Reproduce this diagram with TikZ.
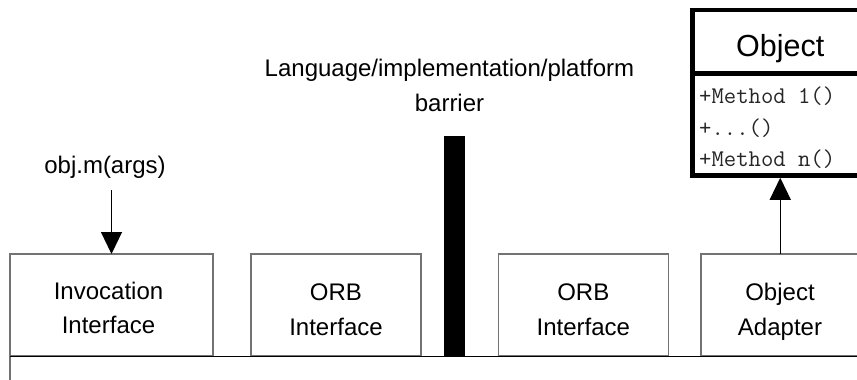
\documentclass[tikz,border=0pt]{standalone}
\usepackage{fontspec}
\setmainfont{Liberation Sans}
\usetikzlibrary{arrows.meta}

\begin{document}
\begin{tikzpicture}[x=1pt,y=-1pt,
  comp/.style={draw=black!55, line width=1.3pt, minimum width=#1,
    minimum height=102pt, inner sep=0pt, outer sep=0pt, anchor=north west},
  lbl/.style={align=center, inner sep=0pt,
    font=\fontsize{24}{34.5}\selectfont},
  meth/.style={anchor=base west, inner sep=0pt, text=black!85,
    font=\ttfamily\fontsize{24}{30}\selectfont},
  arr/.style={line width=1.2pt, -{Triangle[width=21pt,length=22pt]}}]

\useasboundingbox (0,0) rectangle (857,380);
\clip (0,0) rectangle (857,380);

% interface components
\node[comp=203pt] (inv) at (10,254) {};
\node[comp=170pt] (orbl) at (251,254) {};
\node[comp=170pt] (orbr) at (498.3,254) {};
\node[comp=159pt] (oa) at (701,254) {};

\node[lbl] (invt) at ([yshift=-3pt,xshift=-3pt]inv.center) {Invocation\\Interface};
\node[lbl] (orblt) at ([yshift=-4.7pt]orbl.center) {ORB\\Interface};
\node[lbl] (orbrt) at ([yshift=-4.7pt]orbr.center) {ORB\\Interface};
\node[lbl] (oat) at ([yshift=-6.7pt,xshift=-0.5pt]oa.center) {Object\\Adapter};

% language/implementation/platform barrier
\node[fill=black, minimum width=21pt, minimum height=220pt, inner sep=0pt,
  outer sep=0pt, anchor=north west] (bar) at (444,136) {};
\node[lbl] (bart) at (449.5,85.5) {Language/implementation/platform\\barrier};

% ORB core edge along the bottom
\coordinate (core) at (10,356.5);
\draw[draw=black!55, line width=1.3pt] (core) -- ++(0,40);
\draw[line width=1.2pt] (core) -- ++(870,0);

% invocation from the client
\node[lbl] (call) at (105,167.3) {obj.m(args)};
\draw[arr, shorten <=11.5pt] (call.south -| inv.north) -- (inv.north);

% target object (UML class)
\node[draw, line width=4.5pt, minimum width=175.5pt, minimum height=165.5pt,
  inner sep=0pt, anchor=north west] (obj) at (690.25,7.75) {};
\draw[line width=4.5pt] ([yshift=-65.75pt]obj.north west)
  -- ([yshift=-65.75pt]obj.north east);
\node[anchor=base, inner sep=0pt, font=\fontsize{30.5}{36}\selectfont]
  (objt) at (780.25,56.7) {Object};
\node[meth] (m1) at (699,103.3) {+Method 1()};
\node[meth] (m2) at (699,135) {+...()};
\node[meth] (m3) at (699,166.7) {+Method n()};

\draw[arr] (oa.north -| obj.south) -- (obj.south);
\end{tikzpicture}
\end{document}
